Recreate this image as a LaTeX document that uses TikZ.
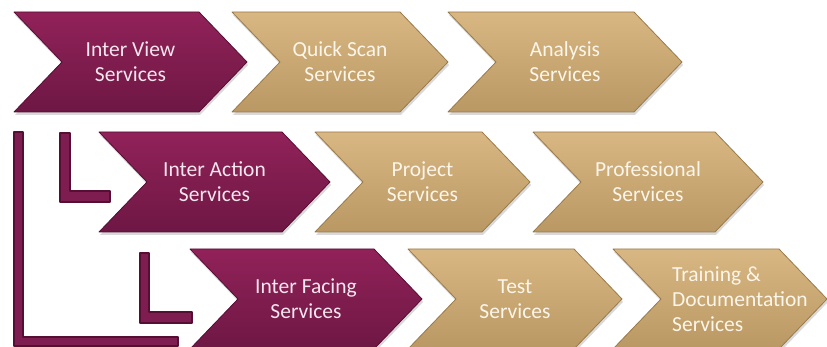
\documentclass[tikz,border=0pt]{standalone}
\usepackage{fontspec}
\setmainfont{Carlito}
\usetikzlibrary{shadows}

\definecolor{plumtop}{HTML}{912259}
\definecolor{plumbot}{HTML}{6E1744}
\definecolor{plumedge}{HTML}{560E35}
\definecolor{plumfill}{HTML}{7E1D4F}
\definecolor{plumtext}{HTML}{F4E6EE}
\definecolor{sandtop}{HTML}{D8B783}
\definecolor{sandbot}{HTML}{BA9863}
\definecolor{sandedge}{HTML}{9A7A4A}
\definecolor{sandtext}{HTML}{FBF5EA}

\tikzset{
  plum/.style={top color=plumtop, bottom color=plumbot, draw=plumedge},
  sand/.style={top color=sandtop, bottom color=sandbot, draw=sandedge},
  chevshape/.style={line width=0.8pt, line join=round,
    drop shadow={opacity=0.3, shadow xshift=1pt, shadow yshift=-3pt}},
  caption/.style={align=center, font=\fontsize{21.5}{25}\selectfont},
  bracket/.style={fill=plumfill, draw=plumedge, line width=1.2pt, line join=round}
}

% #1 extra text options, #2 name, #3 left, #4 top, #5 width, #6 colour, #7 text
\newcommand{\chev}[7][]{%
  \path[chevshape,#6] (#3,#4) -- ++(#5-48,0) -- ++(48,50) -- ++(-48,50)
    -- ++(-#5+48,0) -- ++(48,-50) -- cycle;
  \node[caption,text=#6text,#1] (#2) at (#3+#5/2,#4+50) {#7};
}

\begin{document}
\begin{tikzpicture}[x=1pt,y=-1pt]
  \useasboundingbox (0,0) rectangle (827,347);

  % nesting brackets
  \path[bracket] (14,132) -- (23,132) -- (23,337) -- (178,337) -- (178,346) -- (14,346) -- cycle;
  \path[bracket] (60,133) -- (70,133) -- (70,191) -- (110,191) -- (110,202) -- (60,202) -- cycle;
  \path[bracket] (140,253) -- (149,253) -- (149,312) -- (192,312) -- (192,323) -- (140,323) -- cycle;

  % row 1
  \chev{iv}{14}{12}{233}{plum}{Inter View\\Services}
  \chev{qs}{232}{12}{216}{sand}{Quick Scan\\Services}
  \chev{as}{448}{12}{234}{sand}{Analysis\\Services}

  % row 2
  \chev{ia}{99}{132}{231}{plum}{Inter Action\\Services}
  \chev{ps}{315}{132}{215}{sand}{Project\\Services}
  \chev{pf}{533}{132}{230}{sand}{Professional\\Services}

  % row 3
  \chev{if}{190}{249}{232}{plum}{Inter Facing\\Services}
  \chev{ts}{408}{249}{214}{sand}{Test\\Services}
  \chev[align=left,xshift=20pt]{td}{613}{249}{214}{sand}{Training \&\\Documentation\\Services}
\end{tikzpicture}
\end{document}
